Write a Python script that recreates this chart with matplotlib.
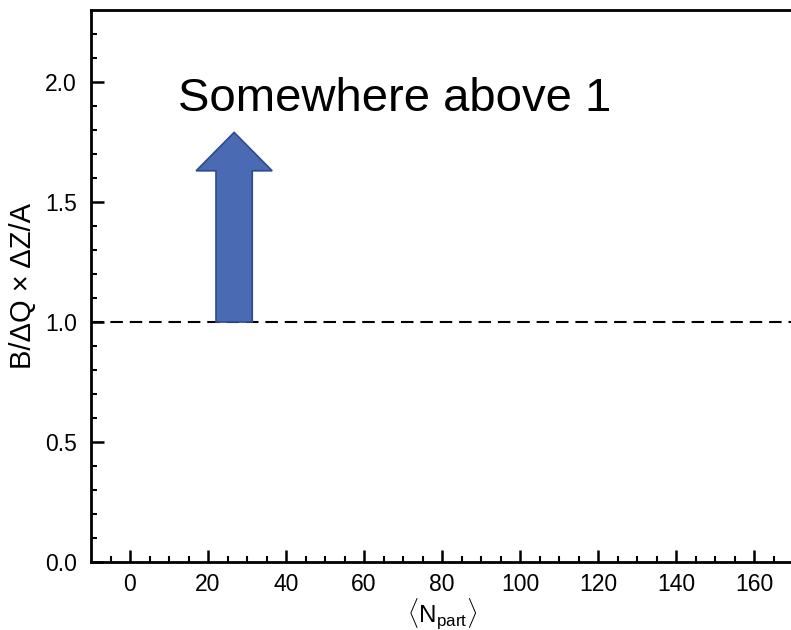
import matplotlib
matplotlib.use("Agg")
import matplotlib.pyplot as plt
from matplotlib.patches import FancyArrow

plt.rcParams['font.family'] = ['Liberation Sans', 'DejaVu Sans']
plt.rcParams['mathtext.fontset'] = 'custom'
plt.rcParams['mathtext.rm'] = 'Liberation Sans'

# data
ref_x = [-10, 170]
ref_y = [1.0, 1.0]
x_ticks = [0, 20, 40, 60, 80, 100, 120, 140, 160]
y_ticks = [0.0, 0.5, 1.0, 1.5, 2.0]
annotation = "Somewhere above 1"

W, H = 791, 630
fig = plt.figure(figsize=(W / 100, H / 100), dpi=100)
left_px, right_px, top_px, bot_px = 91, 793, 10, 562
ax = fig.add_axes([left_px / W, (H - bot_px) / H, (right_px - left_px) / W, (bot_px - top_px) / H])

ax.plot(ref_x, ref_y, ls=(0, (6, 3.3)), color='black', lw=1.5)

ax.set_xlim(-10, 170)
ax.set_ylim(0, 2.3)
ax.set_xticks(x_ticks)
ax.set_yticks(y_ticks)
ax.set_yticklabels([f"{v:.1f}" for v in y_ticks])
ax.set_xticks(range(-5, 170, 5), minor=True)
ax.set_yticks([i / 10 for i in range(0, 23)], minor=True)
ax.tick_params(which='major', direction='in', length=9, width=1.8, labelsize=16.5)
ax.tick_params(axis='x', which='major', pad=8)
ax.tick_params(axis='y', which='major', pad=10)
ax.tick_params(which='minor', direction='in', length=4.5, width=1.5)
for s in ax.spines.values():
    s.set_linewidth(2)

ax.set_xlabel(r'$\langle\mathrm{N}_{\mathrm{part}}\rangle$', fontsize=17.5, labelpad=0)
ax.set_ylabel('B/ΔQ × ΔZ/A', fontsize=21, labelpad=6)

arrow = FancyArrow(26.7, 1.0, 0, 0.79, width=9.3, head_width=19.5, head_length=0.16,
                   length_includes_head=True, facecolor='#4A6AB3', edgecolor='#2E4C8C',
                   linewidth=1.2, zorder=3)
ax.add_patch(arrow)

ax.text(12.3, 1.93, annotation, fontsize=34, ha='left', va='center', color='black')

fig.savefig('out.png', dpi=100)
